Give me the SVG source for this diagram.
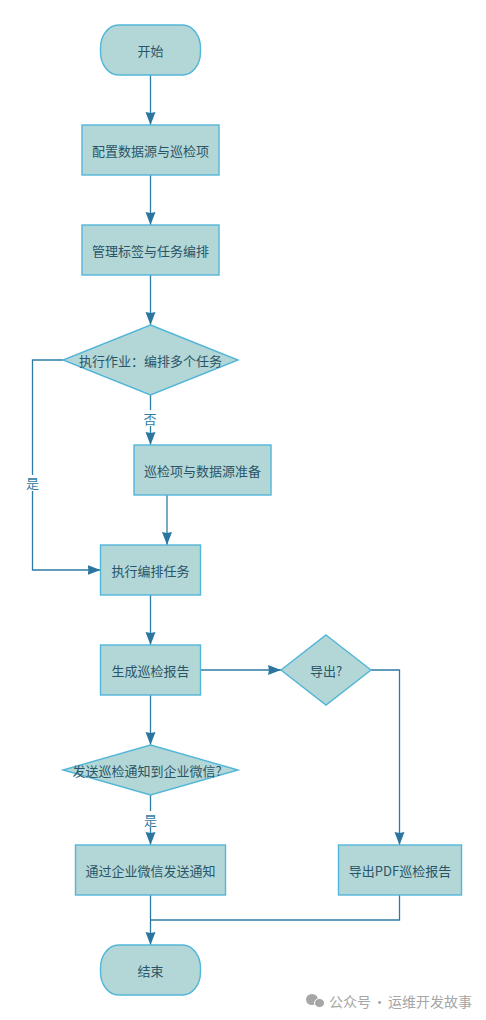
<svg xmlns="http://www.w3.org/2000/svg" width="486" height="1020" viewBox="0 0 486 1020">
<style>
.n{fill:#b3d7d6;stroke:#52b6d8;stroke-width:1.4}
.t{font-family:"Noto Sans CJK SC","Liberation Sans",sans-serif;font-size:13px;fill:#2a5468;text-anchor:middle;dominant-baseline:central}
.c{fill:none;stroke:#2e7ba3;stroke-width:1.3}
.l{font-family:"Noto Sans CJK SC","Liberation Sans",sans-serif;font-size:13px;fill:#2e7ba3;text-anchor:middle;dominant-baseline:central}
.b{fill:#fff;stroke:none}
.w{font-family:"Noto Sans CJK SC","Liberation Sans",sans-serif;font-size:14px;fill:#a6a6a6;dominant-baseline:central}
</style>
<defs><marker id="a" markerUnits="userSpaceOnUse" markerWidth="14" markerHeight="12" refX="13" refY="6" orient="auto"><path d="M0 1L13 6L0 11L1 6Z" fill="#2a76a0"/></marker></defs>
<rect width="486" height="1020" fill="#fff"/>
<g id="connectors">
<path class="c" marker-end="url(#a)" d="M150.500 75V125"/>
<path class="c" marker-end="url(#a)" d="M150.500 175V225"/>
<path class="c" marker-end="url(#a)" d="M150.500 275V325"/>
<path class="c" marker-end="url(#a)" d="M150.500 395V445"/>
<rect class="b" x="143" y="410" width="15" height="16"/>
<text class="l" x="150" y="418">否</text>
<path class="c" marker-end="url(#a)" d="M63 360H32.500V570H100.500"/>
<rect class="b" x="25" y="475" width="15" height="16"/>
<text class="l" x="32.500" y="482.500">是</text>
<path class="c" marker-end="url(#a)" d="M167 495V545"/>
<path class="c" marker-end="url(#a)" d="M150.500 595V645"/>
<path class="c" marker-end="url(#a)" d="M200.500 670H281"/>
<path class="c" marker-end="url(#a)" d="M371 670H399.500V845"/>
<path class="c" marker-end="url(#a)" d="M150.500 695V745"/>
<path class="c" marker-end="url(#a)" d="M150.500 795V845"/>
<rect class="b" x="143" y="811" width="15" height="16"/>
<text class="l" x="150.500" y="819">是</text>
<path class="c" marker-end="url(#a)" d="M150.500 895V945"/>
<path class="c" d="M399.500 895V920H150.500"/>
</g>
<g id="start"><rect class="n" x="100.500" y="25" width="100" height="50" rx="18" ry="23"/><text class="t" x="150.500" y="50.500">开始</text></g>
<g id="config"><rect class="n" x="82" y="125" width="137" height="50"/><text class="t" x="150.500" y="150.500">配置数据源与巡检项</text></g>
<g id="manage"><rect class="n" x="82" y="225" width="137" height="50"/><text class="t" x="150.500" y="250.500">管理标签与任务编排</text></g>
<g id="decision-job"><polygon class="n" points="150.500,325 238,360 150.500,395 63,360"/><text class="t" x="150.500" y="360.500">执行作业：编排多个任务</text></g>
<g id="prepare"><rect class="n" x="134" y="445" width="137" height="50"/><text class="t" x="202.500" y="470.500">巡检项与数据源准备</text></g>
<g id="run"><rect class="n" x="100.500" y="545" width="100" height="50"/><text class="t" x="150.500" y="570.500">执行编排任务</text></g>
<g id="report"><rect class="n" x="100.500" y="645" width="100" height="50"/><text class="t" x="150.500" y="670.500">生成巡检报告</text></g>
<g id="decision-export"><polygon class="n" points="326,635 371,670 326,705 281,670"/><text class="t" x="326" y="670.500">导出?</text></g>
<g id="decision-notify"><polygon class="n" points="150.500,745 238,770 150.500,795 63,770"/><text class="t" x="147" y="770">发送巡检通知到企业微信?</text></g>
<g id="notify"><rect class="n" x="75.500" y="845" width="150" height="50"/><text class="t" x="150.500" y="870.500">通过企业微信发送通知</text></g>
<g id="export"><rect class="n" x="338.500" y="845" width="123" height="50"/><text class="t" x="400" y="870.500">导出PDF巡检报告</text></g>
<g id="end"><rect class="n" x="100.500" y="945" width="100" height="50" rx="18" ry="23"/><text class="t" x="150.500" y="970.500">结束</text></g>
<g id="watermark"><ellipse cx="312" cy="999.500" rx="6" ry="5.500" fill="#a6a6a6"/><ellipse cx="319.500" cy="1003" rx="5" ry="4.500" fill="#a6a6a6" stroke="#fff"/><text class="w" y="1000.500"><tspan x="329">公众号</tspan><tspan x="372.500">·</tspan><tspan x="388">运维开发故事</tspan></text></g>
</svg>
